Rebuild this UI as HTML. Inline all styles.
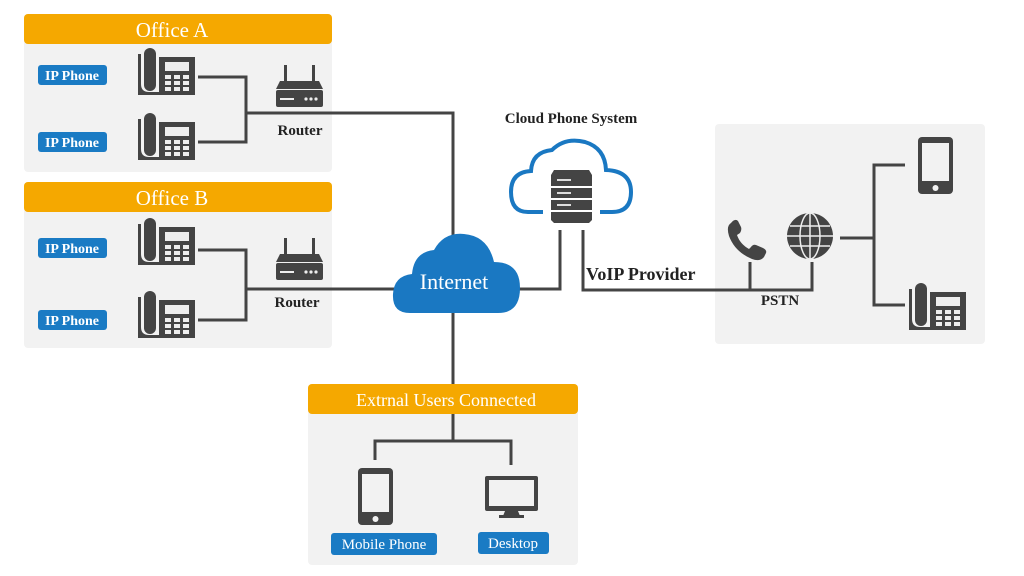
<!DOCTYPE html>
<html><head><meta charset="utf-8"><style>
html,body{margin:0;padding:0;background:#fff;}
svg{display:block}
text{font-family:"Liberation Serif",serif;}
</style></head><body>
<svg width="1024" height="576" viewBox="0 0 1024 576" xmlns="http://www.w3.org/2000/svg">
<defs>
<g id="desk">
 <path d="M0 6 V47 H57 V9 H21 V44 H11 Q3 44 3 36 V6 Z" fill="#444"/>
 <rect x="6" y="0" width="12" height="43" rx="6" fill="#444"/>
 <rect x="21" y="9" width="36" height="38" fill="#444"/>
 <rect x="27" y="14" width="24" height="9" fill="#eee"/>
 <g fill="#eee">
  <rect x="27" y="27" width="6" height="4"/><rect x="36" y="27" width="6" height="4"/><rect x="45" y="27" width="6" height="4"/>
  <rect x="27" y="33" width="6" height="4"/><rect x="36" y="33" width="6" height="4"/><rect x="45" y="33" width="6" height="4"/>
  <rect x="27" y="39" width="6" height="4"/><rect x="36" y="39" width="6" height="4"/><rect x="45" y="39" width="6" height="4"/>
 </g>
</g>
<g id="router">
 <rect x="8" y="0" width="3" height="18" fill="#444"/><rect x="36" y="0" width="3" height="18" fill="#444"/>
 <path d="M4 16 H43 L47 24 H0 Z" fill="#444"/>
 <rect x="0" y="25" width="47" height="17" rx="2" fill="#444"/>
 <g fill="#eee"><rect x="4" y="33" width="14" height="2"/><circle cx="30" cy="34" r="1.6"/><circle cx="35" cy="34" r="1.6"/><circle cx="40" cy="34" r="1.6"/></g>
</g>
<g id="mobile">
 <rect x="0" y="0" width="35" height="57" rx="4" fill="#444"/>
 <rect x="4" y="6" width="27" height="38" fill="#f2f2f2"/>
 <circle cx="17.5" cy="51" r="3" fill="#f2f2f2"/>
</g>
</defs>

<rect x="24" y="14" width="308" height="158" rx="4" fill="#f2f2f2"/>
<rect x="24" y="14" width="308" height="30" rx="4" fill="#f5a800"/>
<text x="172" y="37" font-size="21" fill="#fff" text-anchor="middle">Office A</text>
<rect x="24" y="182" width="308" height="166" rx="4" fill="#f2f2f2"/>
<rect x="24" y="182" width="308" height="30" rx="4" fill="#f5a800"/>
<text x="172" y="205" font-size="21" fill="#fff" text-anchor="middle">Office B</text>
<rect x="715" y="124" width="270" height="220" rx="4" fill="#f2f2f2"/>
<rect x="308" y="384" width="270" height="181" rx="4" fill="#f2f2f2"/>
<rect x="308" y="384" width="270" height="30" rx="4" fill="#f5a800"/>
<text x="446" y="406" font-size="18" fill="#fff" text-anchor="middle">Extrnal Users Connected</text>

<g fill="none" stroke="#444" stroke-width="3">
 <path d="M198 77 H246 V142 H198"/>
 <path d="M246 113 H453 V250"/>
 <path d="M198 250 H246 V320 H198"/>
 <path d="M246 289 H400"/>
 <path d="M510 289 H560 V230"/>
 <path d="M583 230 V290 H812 V262"/>
 <path d="M750 262 V290"/>
 <path d="M840 238 H874"/>
 <path d="M905 165 H874 V305 H905"/>
 <path d="M453 305 V384"/>
 <path d="M453 414 V441 M375 460 V441 H511 V465"/>
</g>

<g fill="#1a7bc4">
 <rect x="38" y="65" width="69" height="20" rx="3"/>
 <rect x="38" y="132" width="69" height="20" rx="3"/>
 <rect x="38" y="238" width="69" height="20" rx="3"/>
 <rect x="38" y="310" width="69" height="20" rx="3"/>
 <rect x="331" y="533" width="106" height="22" rx="3"/>
 <rect x="478" y="532" width="71" height="22" rx="3"/>
</g>
<g font-size="14" fill="#fff" text-anchor="middle" font-weight="bold">
 <text x="72" y="80">IP Phone</text>
 <text x="72" y="147">IP Phone</text>
 <text x="72" y="253">IP Phone</text>
 <text x="72" y="325">IP Phone</text>
 <text x="384" y="549" font-weight="normal" font-size="15">Mobile Phone</text>
 <text x="513" y="548" font-weight="normal" font-size="15">Desktop</text>
</g>

<use href="#desk" x="138" y="48"/>
<use href="#desk" x="138" y="113"/>
<use href="#desk" x="138" y="218"/>
<use href="#desk" x="138" y="291"/>
<use href="#desk" x="909" y="283"/>
<use href="#router" x="276" y="65"/>
<use href="#router" x="276" y="238"/>
<use href="#mobile" x="918" y="137"/>
<use href="#mobile" x="358" y="468"/>
<rect x="485" y="476" width="53" height="35" rx="2" fill="#444"/>
<rect x="489" y="480" width="45" height="26" fill="#f2f2f2"/>
<path d="M505 511 H518 L520 516 H503 Z" fill="#444"/><rect x="499" y="515" width="25" height="3" fill="#444"/>

<g font-size="15" fill="#222" text-anchor="middle" font-weight="bold">
 <text x="300" y="135">Router</text>
 <text x="297" y="307">Router</text>
 <text x="571" y="123">Cloud Phone System</text>
 <text x="780" y="305">PSTN</text>
</g>
<text x="586" y="280" font-size="18" fill="#222" font-weight="bold">VoIP Provider</text>

<path d="M410 313 Q392 313 393 294 Q394 276 412 274 Q414 252 434 250 Q444 232 464 234 Q488 236 494 262 Q520 262 520 288 Q520 313 498 313 Z" fill="#1a78c2"/>
<text x="454" y="289" font-size="22" fill="#fff" text-anchor="middle">Internet</text>

<path d="M543 212 H528 Q511 212 511 192 Q511 172 531 171 Q532 152 552 150 Q565 137 585 142 Q605 148 606 170 Q631 171 631 192 Q631 212 612 212 H600" fill="none" stroke="#1a78c2" stroke-width="4"/>
<g fill="#444">
 <path d="M551 175 L554 170 H589 L592 175 V186 H551 Z"/>
 <rect x="551" y="188" width="41" height="10"/>
 <rect x="551" y="200" width="41" height="10"/>
 <path d="M551 212 H592 V220 L589 223 H554 L551 220 Z"/>
</g>
<g fill="#ddd"><rect x="557" y="179" width="14" height="2"/><rect x="557" y="192" width="14" height="2"/><rect x="557" y="204" width="14" height="2"/></g>

<path d="M731 223 Q726 226 729 236 Q735 252 752 259 Q760 262 764 257 L766 253 Q767 250 763 248 L756 245 Q753 244 751 247 L749 249 Q740 244 737 235 L740 233 Q742 230 741 227 L738 221 Q735 218 731 223 Z" fill="#444"/>
<circle cx="810" cy="236" r="23" fill="#444"/>
<g fill="none" stroke="#eee" stroke-width="1.5">
 <ellipse cx="810" cy="236" rx="10" ry="23"/>
 <line x1="810" y1="213" x2="810" y2="259"/>
 <line x1="787" y1="236" x2="833" y2="236"/>
 <line x1="790" y1="226" x2="830" y2="226"/>
 <line x1="790" y1="246" x2="830" y2="246"/>
</g>
</svg>
</body></html>
